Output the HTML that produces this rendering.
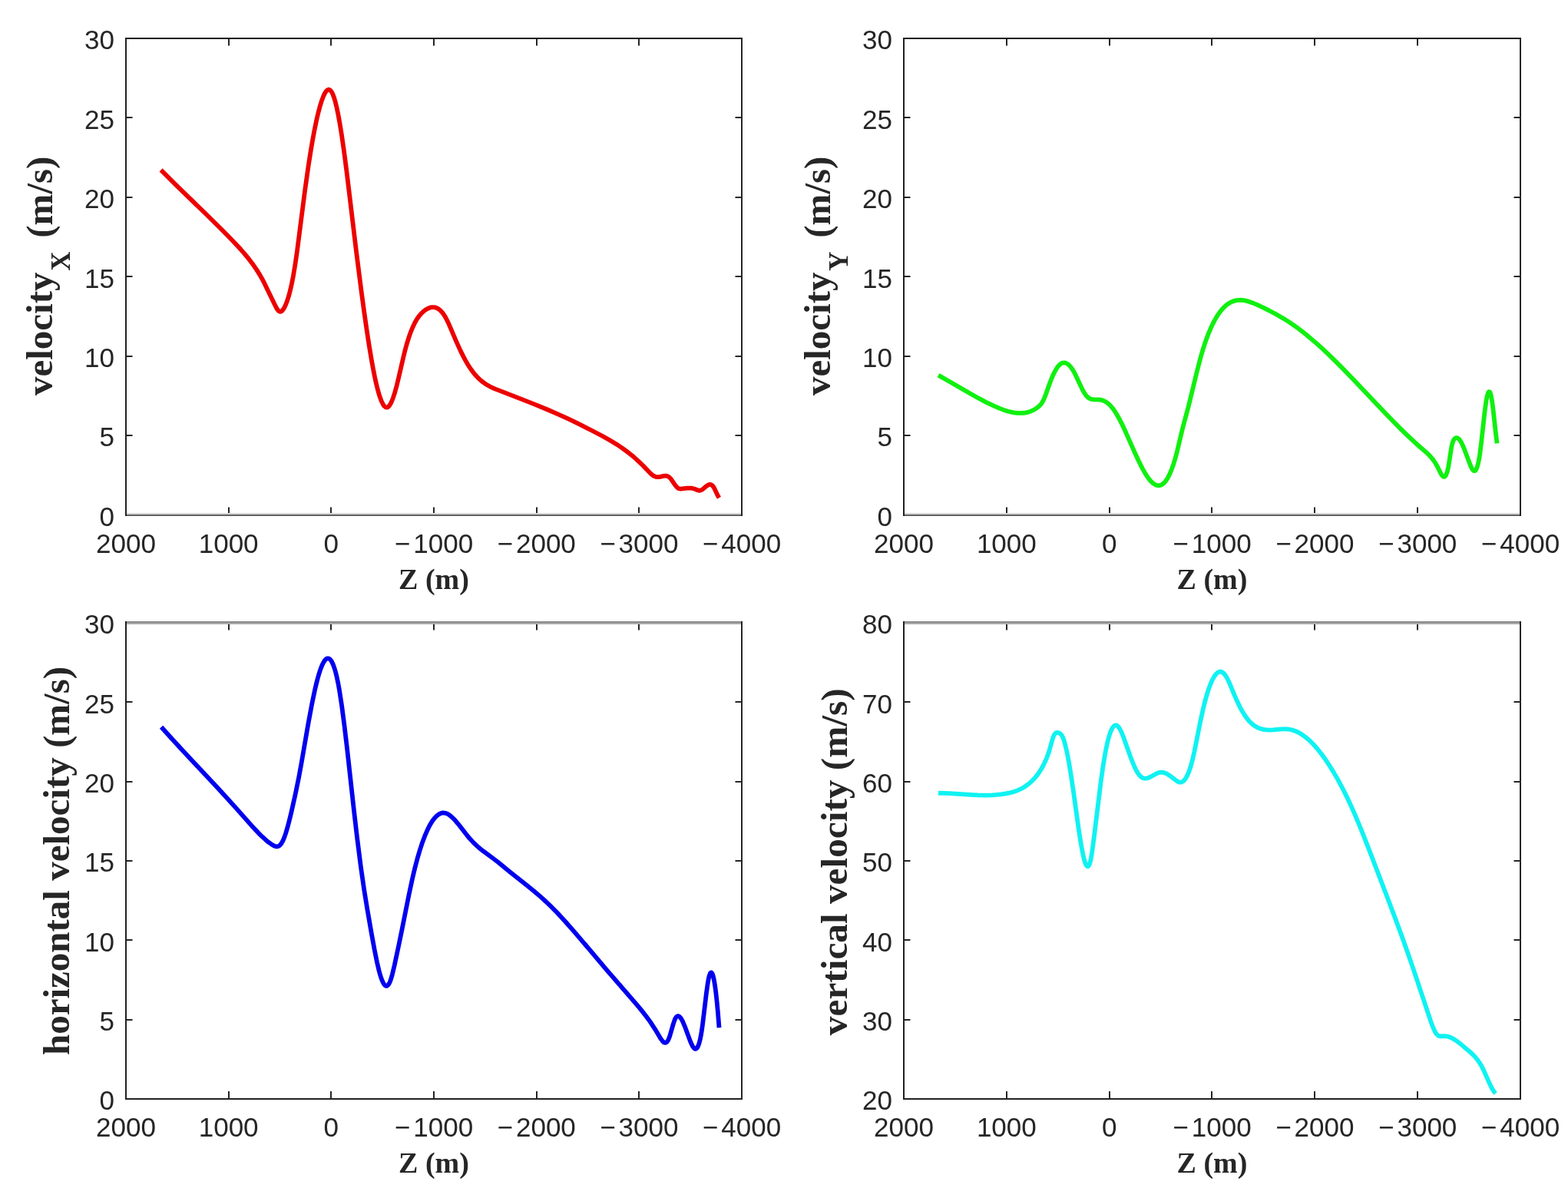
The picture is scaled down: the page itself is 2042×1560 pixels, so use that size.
<!DOCTYPE html><html><head><meta charset="utf-8"><style>html,body{margin:0;padding:0;background:#fff;}svg{display:block;}.tk{font-family:"Liberation Sans",Arial,sans-serif;font-size:35px;fill:#262626;}.lb{font-family:"Liberation Serif","Times New Roman",serif;font-weight:bold;fill:#262626;}</style></head><body>
<svg xmlns="http://www.w3.org/2000/svg" width="2042" height="1560" viewBox="0 0 2042 1560">
<rect width="2042" height="1560" fill="#fff"/>
<path d="M209.60,221.37L229.40,241.11L270.30,280.74L287.80,298.01L297.70,308.04L306.70,317.39L312.90,324.09L318.40,330.35L324.20,337.44L329.60,344.59L334.30,351.40L338.50,358.15L341.50,363.46L344.60,369.40L357.60,396.29L359.50,400.02L360.90,402.43L362.30,404.32L363.60,405.45L364.20,405.72L364.90,405.84L365.50,405.79L366.20,405.54L367.10,404.95L368.10,403.95L370.00,401.15L372.10,396.84L374.10,391.59L376.10,385.18L378.10,377.57L380.00,369.15L381.80,359.99L384.20,345.82L386.90,327.33L396.70,251.19L401.50,216.93L404.20,199.51L406.90,183.50L409.50,169.48L412.10,156.91L414.50,146.63L416.80,138.02L419.10,130.67L421.40,124.68L423.50,120.56L424.60,118.95L425.60,117.85L426.60,117.11L427.60,116.73L428.60,116.74L429.50,117.09L430.40,117.78L431.30,118.82L432.20,120.21L433.10,121.97L434.90,126.61L436.80,133.03L438.70,140.91L440.60,150.14L442.60,161.19L444.70,174.14L447.90,196.16L451.40,222.82L464.10,328.30L470.60,379.33L474.20,405.85L477.50,428.94L480.60,449.28L483.50,466.83L485.80,479.58L488.10,491.15L490.30,501.02L492.50,509.63L494.60,516.59L496.70,522.23L498.70,526.31L499.70,527.86L500.70,529.06L502.10,530.16L503.40,530.54L504.70,530.30L506.10,529.31L507.50,527.63L508.90,525.27L510.30,522.30L511.80,518.46L514.20,511.06L516.70,501.91L519.20,491.62L525.90,462.62L527.80,455.06L529.70,448.15L532.20,440.03L534.70,432.91L537.30,426.49L540.00,420.80L542.90,415.69L546.00,411.23L549.20,407.59L550.90,406.00L552.70,404.54L554.60,403.22L556.60,402.06L558.40,401.21L560.20,400.58L562.00,400.19L563.70,400.04L565.40,400.13L567.00,400.45L568.70,401.05L570.40,401.93L572.10,403.11L573.70,404.51L575.30,406.19L576.90,408.18L578.50,410.48L580.10,413.11L582.30,417.26L584.70,422.37L594.30,444.91L600.00,457.36L603.00,463.40L605.90,468.85L608.70,473.74L611.50,478.23L613.80,481.60L616.20,484.83L618.60,487.76L621.10,490.53L623.70,493.13L626.30,495.46L629.00,497.63L631.90,499.69L634.90,501.58L638.00,503.31L641.40,504.98L645.20,506.65L680.70,520.36L695.90,526.36L712.10,533.01L726.70,539.34L740.60,545.72L755.00,552.66L770.50,560.47L784.90,568.02L794.60,573.47L803.20,578.71L811.20,584.08L818.70,589.63L824.80,594.59L830.70,599.80L837.10,605.99L846.50,615.80L849.00,618.03L851.20,619.61L853.50,620.73L854.60,621.04L855.80,621.21L858.50,621.06L863.90,619.84L866.20,619.58L867.50,619.65L868.70,619.90L869.80,620.33L870.90,620.97L872.30,622.14L873.90,623.96L879.00,631.30L880.70,633.51L882.20,635.05L883.60,636.02L884.90,636.47L886.40,636.60L894.90,635.64L897.50,635.55L899.90,635.67L902.00,635.98L904.00,636.48L909.40,638.57L910.40,638.76L911.40,638.76L912.90,638.33L914.50,637.44L916.10,636.23L919.90,633.03L921.90,631.67L923.80,630.94L924.70,630.86L925.50,630.96L926.50,631.34L927.50,632.04L928.40,632.98L929.30,634.23L930.90,637.15L934.70,645.21L936.50,648.19" fill="none" stroke="#ec0000" stroke-width="5.8" stroke-linejoin="round" stroke-linecap="butt"/>
<g fill="#262626"><rect x="297" y="660.5" width="2" height="10.0"/><rect x="297" y="50.0" width="2" height="9.5"/><rect x="430" y="660.5" width="2" height="10.0"/><rect x="430" y="50.0" width="2" height="9.5"/><rect x="564" y="660.5" width="2" height="10.0"/><rect x="564" y="50.0" width="2" height="9.5"/><rect x="698" y="660.5" width="2" height="10.0"/><rect x="698" y="50.0" width="2" height="9.5"/><rect x="831" y="660.5" width="2" height="10.0"/><rect x="831" y="50.0" width="2" height="9.5"/><rect x="163.0" y="566" width="9.5" height="2"/><rect x="957.5" y="566" width="9.5" height="2"/><rect x="163.0" y="463" width="9.5" height="2"/><rect x="957.5" y="463" width="9.5" height="2"/><rect x="163.0" y="359" width="9.5" height="2"/><rect x="957.5" y="359" width="9.5" height="2"/><rect x="163.0" y="256" width="9.5" height="2"/><rect x="957.5" y="256" width="9.5" height="2"/><rect x="163.0" y="152" width="9.5" height="2"/><rect x="957.5" y="152" width="9.5" height="2"/></g>
<rect x="163" y="49" width="804" height="2" fill="#1c1c1c"/>
<rect x="163" y="668" width="804" height="2" fill="#d6d6d6"/>
<rect x="163" y="670" width="804" height="2" fill="#616161"/>
<rect x="163" y="49" width="2" height="623" fill="#202020"/>
<rect x="965" y="49" width="2" height="623" fill="#262626"/>
<text class="tk" x="164.00" y="719.50" text-anchor="middle">2000</text>
<text class="tk" x="297.67" y="719.50" text-anchor="middle">1000</text>
<text class="tk" x="431.33" y="719.50" text-anchor="middle">0</text>
<text class="tk" x="565.00" y="719.50" text-anchor="middle">−<tspan dx="4">1000</tspan></text>
<text class="tk" x="698.67" y="719.50" text-anchor="middle">−<tspan dx="4">2000</tspan></text>
<text class="tk" x="832.33" y="719.50" text-anchor="middle">−<tspan dx="4">3000</tspan></text>
<text class="tk" x="966.00" y="719.50" text-anchor="middle">−<tspan dx="4">4000</tspan></text>
<text class="tk" x="149.00" y="684.80" text-anchor="end">0</text>
<text class="tk" x="149.00" y="581.38" text-anchor="end">5</text>
<text class="tk" x="149.00" y="477.97" text-anchor="end">10</text>
<text class="tk" x="149.00" y="374.55" text-anchor="end">15</text>
<text class="tk" x="149.00" y="271.13" text-anchor="end">20</text>
<text class="tk" x="149.00" y="167.72" text-anchor="end">25</text>
<text class="tk" x="149.00" y="64.30" text-anchor="end">30</text>
<text class="lb" x="565.00" y="766.50" text-anchor="middle" font-size="38">Z (m)</text>
<text class="lb" font-size="49" transform="translate(67.50,515.00) rotate(-90)" x="0" y="0">velocity<tspan font-size="35" dx="1.8" dy="23">X</tspan><tspan dx="5.4" dy="-23">&#160;(m/s)</tspan></text>
<path d="M1222.00,488.62L1233.70,495.17L1260.10,510.56L1271.90,517.23L1284.40,523.84L1295.60,529.16L1301.50,531.66L1306.70,533.64L1311.50,535.21L1316.10,536.43L1320.50,537.29L1324.70,537.80L1328.80,537.96L1332.70,537.77L1336.00,537.33L1339.10,536.64L1342.10,535.66L1344.90,534.45L1347.70,532.92L1350.50,531.03L1353.30,528.75L1355.30,526.73L1356.40,525.34L1357.50,523.66L1359.60,519.46L1361.80,513.95L1367.10,499.01L1369.60,492.51L1372.60,485.81L1375.60,480.38L1377.30,477.90L1379.00,475.85L1380.70,474.26L1382.30,473.19L1383.90,472.53L1385.60,472.28L1387.30,472.48L1389.00,473.11L1391.00,474.39L1393.10,476.34L1395.10,478.76L1397.20,481.87L1399.00,484.99L1400.90,488.68L1407.70,503.31L1410.40,508.70L1413.20,513.37L1414.50,515.09L1415.80,516.51L1417.20,517.74L1418.60,518.68L1420.10,519.43L1421.80,519.98L1424.90,520.43L1430.60,520.46L1432.90,520.63L1435.50,521.19L1438.00,522.15L1440.90,523.80L1443.80,526.04L1446.60,528.80L1449.40,532.16L1451.90,535.68L1454.60,540.00L1457.40,544.98L1460.30,550.59L1466.20,563.07L1477.70,589.05L1482.40,599.30L1487.40,609.36L1491.80,617.14L1494.40,621.14L1496.90,624.49L1499.30,627.21L1501.70,629.39L1504.00,630.94L1506.20,631.88L1508.40,632.25L1510.60,632.03L1511.80,631.65L1513.00,631.07L1515.30,629.40L1517.60,626.95L1519.80,623.85L1522.00,619.97L1524.20,615.27L1526.30,609.99L1528.40,603.91L1530.60,596.64L1532.70,588.81L1539.90,558.52L1547.80,529.05L1558.70,484.18L1563.20,466.78L1566.50,455.38L1569.90,444.90L1573.40,435.37L1576.90,427.01L1579.20,422.12L1581.50,417.66L1583.80,413.61L1586.20,409.80L1588.60,406.40L1591.10,403.27L1593.60,400.53L1596.20,398.09L1598.80,396.04L1601.40,394.36L1604.10,392.98L1606.90,391.92L1609.70,391.21L1612.60,390.81L1615.60,390.72L1618.70,390.96L1622.40,391.60L1626.30,392.65L1630.60,394.15L1635.50,396.19L1644.20,400.22L1652.80,404.45L1660.60,408.55L1667.90,412.66L1673.60,416.08L1679.20,419.66L1684.60,423.31L1690.10,427.26L1695.80,431.57L1701.60,436.18L1713.60,446.34L1721.50,453.46L1729.70,461.14L1738.40,469.59L1747.70,478.91L1764.70,496.49L1804.30,538.32L1814.50,548.84L1823.70,558.09L1832.20,566.39L1840.20,573.93L1848.30,581.26L1858.30,589.93L1862.10,593.61L1865.50,597.54L1868.60,601.90L1871.60,607.03L1876.80,617.35L1878.30,619.54L1879.60,620.69L1880.30,620.95L1880.90,620.93L1881.50,620.67L1882.10,620.15L1883.20,618.46L1884.30,615.69L1885.40,611.72L1886.50,606.43L1889.90,584.47L1890.60,580.67L1891.30,577.67L1892.30,574.58L1893.40,572.43L1894.80,570.86L1895.50,570.39L1896.30,570.10L1897.10,570.05L1898.00,570.28L1898.80,570.72L1899.70,571.46L1901.50,573.65L1903.50,577.06L1905.30,580.85L1907.40,585.90L1914.70,605.46L1916.10,608.62L1917.30,610.81L1918.70,612.54L1919.40,613.01L1920.00,613.18L1920.70,613.07L1921.30,612.69L1921.90,612.04L1922.50,611.09L1923.70,608.23L1924.90,603.97L1926.10,598.17L1927.20,591.39L1929.10,576.42L1933.40,537.33L1935.40,522.49L1936.30,517.52L1937.20,513.77L1938.10,511.30L1938.60,510.48L1939.00,510.12L1939.50,510.05L1940.00,510.40L1940.50,511.18L1941.00,512.40L1942.00,516.16L1942.90,521.11L1944.40,532.25L1948.00,564.83L1949.60,577.26" fill="none" stroke="#10f010" stroke-width="5.8" stroke-linejoin="round" stroke-linecap="butt"/>
<g fill="#262626"><rect x="1310" y="660.5" width="2" height="10.0"/><rect x="1310" y="50.0" width="2" height="9.5"/><rect x="1444" y="660.5" width="2" height="10.0"/><rect x="1444" y="50.0" width="2" height="9.5"/><rect x="1577" y="660.5" width="2" height="10.0"/><rect x="1577" y="50.0" width="2" height="9.5"/><rect x="1711" y="660.5" width="2" height="10.0"/><rect x="1711" y="50.0" width="2" height="9.5"/><rect x="1845" y="660.5" width="2" height="10.0"/><rect x="1845" y="50.0" width="2" height="9.5"/><rect x="1176.0" y="566" width="9.5" height="2"/><rect x="1971.5" y="566" width="9.5" height="2"/><rect x="1176.0" y="463" width="9.5" height="2"/><rect x="1971.5" y="463" width="9.5" height="2"/><rect x="1176.0" y="359" width="9.5" height="2"/><rect x="1971.5" y="359" width="9.5" height="2"/><rect x="1176.0" y="256" width="9.5" height="2"/><rect x="1971.5" y="256" width="9.5" height="2"/><rect x="1176.0" y="152" width="9.5" height="2"/><rect x="1971.5" y="152" width="9.5" height="2"/></g>
<rect x="1176" y="49" width="805" height="2" fill="#1c1c1c"/>
<rect x="1176" y="668" width="805" height="2" fill="#d6d6d6"/>
<rect x="1176" y="670" width="805" height="2" fill="#616161"/>
<rect x="1176" y="49" width="2" height="623" fill="#202020"/>
<rect x="1979" y="49" width="2" height="623" fill="#262626"/>
<text class="tk" x="1177.00" y="719.50" text-anchor="middle">2000</text>
<text class="tk" x="1310.83" y="719.50" text-anchor="middle">1000</text>
<text class="tk" x="1444.67" y="719.50" text-anchor="middle">0</text>
<text class="tk" x="1578.50" y="719.50" text-anchor="middle">−<tspan dx="4">1000</tspan></text>
<text class="tk" x="1712.33" y="719.50" text-anchor="middle">−<tspan dx="4">2000</tspan></text>
<text class="tk" x="1846.17" y="719.50" text-anchor="middle">−<tspan dx="4">3000</tspan></text>
<text class="tk" x="1980.00" y="719.50" text-anchor="middle">−<tspan dx="4">4000</tspan></text>
<text class="tk" x="1162.00" y="684.80" text-anchor="end">0</text>
<text class="tk" x="1162.00" y="581.38" text-anchor="end">5</text>
<text class="tk" x="1162.00" y="477.97" text-anchor="end">10</text>
<text class="tk" x="1162.00" y="374.55" text-anchor="end">15</text>
<text class="tk" x="1162.00" y="271.13" text-anchor="end">20</text>
<text class="tk" x="1162.00" y="167.72" text-anchor="end">25</text>
<text class="tk" x="1162.00" y="64.30" text-anchor="end">30</text>
<text class="lb" x="1578.50" y="766.50" text-anchor="middle" font-size="38">Z (m)</text>
<text class="lb" font-size="49" transform="translate(1080.50,515.00) rotate(-90)" x="0" y="0">velocity<tspan font-size="35" dx="1.8" dy="23">Y</tspan><tspan dx="5.4" dy="-23">&#160;(m/s)</tspan></text>
<path d="M210.10,946.75L222.00,960.04L235.30,974.55L278.40,1020.57L293.80,1037.20L308.40,1053.33L327.90,1075.43L336.70,1084.84L341.40,1089.46L345.80,1093.45L350.00,1096.88L354.00,1099.75L356.60,1101.30L358.70,1102.12L360.60,1102.34L362.40,1101.95L363.50,1101.37L364.50,1100.60L365.50,1099.56L366.40,1098.38L368.30,1095.06L370.20,1090.61L372.20,1084.85L374.40,1077.45L376.80,1068.35L379.50,1057.20L384.90,1033.21L389.30,1011.46L392.80,992.20L401.40,942.49L406.10,917.28L410.00,898.64L411.90,890.52L413.70,883.51L415.70,876.57L417.60,870.87L419.50,866.09L421.40,862.28L423.30,859.51L424.20,858.58L425.10,857.89L426.00,857.46L426.90,857.29L427.80,857.38L428.60,857.70L429.50,858.31L430.40,859.22L432.10,861.71L433.80,865.28L435.50,869.97L437.20,875.80L438.80,882.38L440.40,890.05L442.00,898.84L445.10,918.96L448.40,944.05L452.20,976.27L460.70,1053.14L464.90,1089.39L469.70,1127.28L474.20,1158.58L478.20,1183.33L483.80,1215.52L487.70,1236.83L490.90,1252.63L493.70,1264.47L495.00,1269.16L496.30,1273.28L497.60,1276.78L498.80,1279.42L500.00,1281.49L501.20,1282.93L501.90,1283.48L502.50,1283.77L503.10,1283.89L503.70,1283.83L504.90,1283.19L506.10,1281.81L507.30,1279.67L508.40,1277.01L509.60,1273.39L510.90,1268.76L513.80,1256.56L519.10,1231.76L523.40,1210.87L532.40,1165.80L537.20,1143.40L540.20,1130.77L543.30,1118.91L546.40,1108.21L549.60,1098.36L553.20,1088.66L556.80,1080.36L558.60,1076.72L560.50,1073.24L562.40,1070.13L564.20,1067.52L566.10,1065.12L567.90,1063.18L569.70,1061.58L571.50,1060.30L573.40,1059.32L575.20,1058.72L577.00,1058.46L578.80,1058.53L580.10,1058.78L581.50,1059.24L584.30,1060.68L587.20,1062.82L590.40,1065.79L593.20,1068.81L596.40,1072.59L607.30,1086.57L611.60,1091.81L616.50,1097.11L621.80,1102.12L625.40,1105.19L629.50,1108.44L643.10,1118.49L648.40,1122.57L664.80,1135.91L686.00,1152.72L695.50,1160.46L703.60,1167.38L710.90,1173.99L718.10,1180.93L725.60,1188.58L736.40,1200.23L748.60,1214.06L791.00,1264.04L828.10,1306.95L834.60,1314.65L841.00,1322.72L846.80,1330.66L853.00,1340.05L860.70,1352.90L862.50,1355.36L864.10,1356.95L864.90,1357.46L865.60,1357.74L866.40,1357.83L867.10,1357.70L867.80,1357.36L868.50,1356.78L869.90,1354.88L871.10,1352.36L872.30,1349.02L876.80,1333.37L878.70,1327.86L879.80,1325.62L880.90,1324.11L882.10,1323.24L882.70,1323.08L883.30,1323.09L883.90,1323.26L884.60,1323.66L886.00,1325.00L887.50,1327.18L889.10,1330.21L892.10,1337.33L899.00,1355.99L900.60,1359.70L902.10,1362.57L903.00,1363.92L903.80,1364.85L904.60,1365.49L905.30,1365.79L906.00,1365.82L906.70,1365.57L907.40,1365.02L908.10,1364.15L909.40,1361.61L910.60,1358.11L911.80,1353.39L912.90,1347.92L914.00,1341.28L915.20,1332.65L919.70,1294.92L921.70,1280.41L922.80,1274.31L923.80,1270.27L924.80,1267.67L925.30,1266.90L925.90,1266.45L926.50,1266.51L927.20,1267.21L927.80,1268.35L928.50,1270.30L929.80,1275.70L931.10,1283.35L932.40,1293.23L933.80,1306.29L935.10,1320.59L936.50,1338.25" fill="none" stroke="#0000ee" stroke-width="5.8" stroke-linejoin="round" stroke-linecap="butt"/>
<g fill="#262626"><rect x="297" y="1421.0" width="2" height="10.0"/><rect x="297" y="811.0" width="2" height="9.5"/><rect x="430" y="1421.0" width="2" height="10.0"/><rect x="430" y="811.0" width="2" height="9.5"/><rect x="564" y="1421.0" width="2" height="10.0"/><rect x="564" y="811.0" width="2" height="9.5"/><rect x="698" y="1421.0" width="2" height="10.0"/><rect x="698" y="811.0" width="2" height="9.5"/><rect x="831" y="1421.0" width="2" height="10.0"/><rect x="831" y="811.0" width="2" height="9.5"/><rect x="163.0" y="1327" width="9.5" height="2"/><rect x="957.5" y="1327" width="9.5" height="2"/><rect x="163.0" y="1223" width="9.5" height="2"/><rect x="957.5" y="1223" width="9.5" height="2"/><rect x="163.0" y="1120" width="9.5" height="2"/><rect x="957.5" y="1120" width="9.5" height="2"/><rect x="163.0" y="1017" width="9.5" height="2"/><rect x="957.5" y="1017" width="9.5" height="2"/><rect x="163.0" y="913" width="9.5" height="2"/><rect x="957.5" y="913" width="9.5" height="2"/></g>
<rect x="163" y="809" width="804" height="2" fill="#8a8a8a"/>
<rect x="163" y="811" width="804" height="2" fill="#ababab"/>
<rect x="163" y="1430" width="804" height="2" fill="#222222"/>
<rect x="163" y="809" width="2" height="623" fill="#202020"/>
<rect x="965" y="809" width="2" height="623" fill="#262626"/>
<text class="tk" x="164.00" y="1480.00" text-anchor="middle">2000</text>
<text class="tk" x="297.67" y="1480.00" text-anchor="middle">1000</text>
<text class="tk" x="431.33" y="1480.00" text-anchor="middle">0</text>
<text class="tk" x="565.00" y="1480.00" text-anchor="middle">−<tspan dx="4">1000</tspan></text>
<text class="tk" x="698.67" y="1480.00" text-anchor="middle">−<tspan dx="4">2000</tspan></text>
<text class="tk" x="832.33" y="1480.00" text-anchor="middle">−<tspan dx="4">3000</tspan></text>
<text class="tk" x="966.00" y="1480.00" text-anchor="middle">−<tspan dx="4">4000</tspan></text>
<text class="tk" x="149.00" y="1445.30" text-anchor="end">0</text>
<text class="tk" x="149.00" y="1341.97" text-anchor="end">5</text>
<text class="tk" x="149.00" y="1238.63" text-anchor="end">10</text>
<text class="tk" x="149.00" y="1135.30" text-anchor="end">15</text>
<text class="tk" x="149.00" y="1031.97" text-anchor="end">20</text>
<text class="tk" x="149.00" y="928.63" text-anchor="end">25</text>
<text class="tk" x="149.00" y="825.30" text-anchor="end">30</text>
<text class="lb" x="565.00" y="1527.00" text-anchor="middle" font-size="38">Z (m)</text>
<text class="lb" font-size="49" transform="translate(90.00,1121.00) rotate(-90)" x="0" y="0" text-anchor="middle">horizontal velocity (m/s)</text>
<path d="M1222.00,1032.74L1229.10,1032.84L1236.90,1033.16L1263.30,1034.87L1273.30,1035.37L1283.30,1035.56L1292.30,1035.34L1297.90,1034.97L1303.30,1034.41L1308.60,1033.64L1313.60,1032.70L1317.90,1031.67L1321.80,1030.49L1325.50,1029.11L1329.10,1027.48L1332.40,1025.70L1335.60,1023.69L1338.70,1021.44L1341.80,1018.87L1344.80,1016.05L1347.50,1013.19L1350.10,1010.08L1352.60,1006.70L1355.50,1002.23L1358.20,997.46L1360.90,992.04L1363.30,986.56L1364.90,982.34L1366.30,978.08L1370.90,961.75L1371.80,959.18L1372.70,957.18L1373.40,956.01L1374.10,955.15L1374.80,954.56L1375.60,954.16L1376.40,953.99L1377.40,954.03L1378.60,954.29L1379.70,954.70L1381.10,955.65L1382.30,956.97L1383.40,958.72L1384.50,961.09L1385.60,964.11L1386.80,968.10L1389.20,978.06L1391.90,992.01L1394.90,1010.25L1397.80,1029.92L1404.90,1080.76L1407.00,1094.42L1408.80,1104.88L1411.00,1115.59L1412.10,1119.91L1413.10,1123.15L1414.10,1125.67L1415.10,1127.39L1416.00,1128.18L1416.50,1128.29L1416.90,1128.19L1417.60,1127.63L1418.20,1126.72L1418.90,1125.14L1419.50,1123.32L1420.80,1117.80L1422.10,1110.16L1424.60,1091.61L1433.70,1017.64L1436.30,999.05L1438.80,983.68L1441.40,970.45L1442.70,964.88L1444.00,959.99L1445.30,955.77L1446.60,952.23L1447.90,949.34L1449.20,947.12L1450.30,945.74L1451.40,944.83L1452.50,944.37L1453.70,944.38L1454.80,944.87L1456.00,945.88L1457.20,947.37L1458.40,949.27L1460.40,953.24L1462.70,958.78L1472.10,985.18L1474.60,991.71L1476.90,997.21L1479.40,1002.47L1481.70,1006.52L1483.90,1009.57L1486.00,1011.63L1487.80,1012.79L1489.60,1013.45L1491.50,1013.68L1493.60,1013.46L1495.50,1012.91L1497.60,1012.02L1505.00,1007.92L1507.90,1006.57L1509.40,1006.08L1510.90,1005.76L1512.30,1005.66L1513.80,1005.76L1515.50,1006.09L1517.30,1006.67L1519.10,1007.46L1521.10,1008.56L1525.00,1011.18L1531.90,1016.50L1534.30,1017.97L1535.80,1018.53L1537.10,1018.72L1538.40,1018.58L1539.60,1018.14L1541.10,1017.15L1542.60,1015.65L1544.10,1013.62L1545.60,1011.03L1547.10,1007.86L1548.50,1004.35L1549.90,1000.30L1551.30,995.69L1553.30,988.08L1555.40,978.82L1563.10,940.11L1566.70,923.66L1568.80,915.12L1570.90,907.37L1573.00,900.41L1575.10,894.26L1577.20,888.92L1579.30,884.40L1581.40,880.73L1583.50,877.90L1584.60,876.77L1585.60,875.95L1586.60,875.33L1587.60,874.92L1588.70,874.69L1589.70,874.71L1590.70,874.93L1591.70,875.36L1593.40,876.58L1595.10,878.42L1596.80,880.89L1598.60,884.12L1601.60,890.57L1607.70,905.29L1610.90,912.58L1614.50,920.06L1618.00,926.54L1621.10,931.56L1624.10,935.75L1627.30,939.51L1630.50,942.60L1633.90,945.21L1637.50,947.31L1641.30,948.88L1645.30,949.91L1649.20,950.42L1653.50,950.54L1657.90,950.34L1669.80,949.39L1673.40,949.32L1676.70,949.48L1680.40,950.00L1684.00,950.91L1687.60,952.22L1691.30,953.98L1696.00,956.80L1700.70,960.25L1705.50,964.40L1710.40,969.28L1715.30,974.79L1720.30,981.01L1725.40,987.98L1730.50,995.55L1736.30,1004.84L1742.00,1014.66L1747.60,1025.02L1753.20,1036.11L1758.50,1047.29L1763.90,1059.40L1769.60,1072.89L1775.90,1088.46L1785.20,1112.31L1807.90,1171.71L1817.30,1196.63L1825.20,1218.05L1832.60,1238.70L1839.60,1258.90L1863.30,1329.90L1866.10,1337.50L1868.40,1342.67L1869.70,1344.99L1871.00,1346.78L1872.30,1348.04L1873.80,1348.92L1874.80,1349.24L1876.00,1349.42L1881.50,1349.14L1883.20,1349.27L1885.00,1349.58L1887.10,1350.18L1889.30,1351.03L1891.60,1352.15L1894.00,1353.54L1898.20,1356.41L1903.20,1360.34L1914.30,1369.73L1919.00,1374.15L1921.70,1377.09L1924.20,1380.21L1926.60,1383.64L1928.80,1387.22L1930.70,1390.69L1932.60,1394.56L1939.40,1409.92L1942.20,1415.76L1943.70,1418.49L1945.10,1420.71L1946.40,1422.42L1947.70,1423.74" fill="none" stroke="#10f2f2" stroke-width="5.8" stroke-linejoin="round" stroke-linecap="butt"/>
<g fill="#262626"><rect x="1310" y="1421.0" width="2" height="10.0"/><rect x="1310" y="811.0" width="2" height="9.5"/><rect x="1444" y="1421.0" width="2" height="10.0"/><rect x="1444" y="811.0" width="2" height="9.5"/><rect x="1577" y="1421.0" width="2" height="10.0"/><rect x="1577" y="811.0" width="2" height="9.5"/><rect x="1711" y="1421.0" width="2" height="10.0"/><rect x="1711" y="811.0" width="2" height="9.5"/><rect x="1845" y="1421.0" width="2" height="10.0"/><rect x="1845" y="811.0" width="2" height="9.5"/><rect x="1176.0" y="1327" width="9.5" height="2"/><rect x="1971.5" y="1327" width="9.5" height="2"/><rect x="1176.0" y="1223" width="9.5" height="2"/><rect x="1971.5" y="1223" width="9.5" height="2"/><rect x="1176.0" y="1120" width="9.5" height="2"/><rect x="1971.5" y="1120" width="9.5" height="2"/><rect x="1176.0" y="1017" width="9.5" height="2"/><rect x="1971.5" y="1017" width="9.5" height="2"/><rect x="1176.0" y="913" width="9.5" height="2"/><rect x="1971.5" y="913" width="9.5" height="2"/></g>
<rect x="1176" y="809" width="805" height="2" fill="#8a8a8a"/>
<rect x="1176" y="811" width="805" height="2" fill="#ababab"/>
<rect x="1176" y="1430" width="805" height="2" fill="#222222"/>
<rect x="1176" y="809" width="2" height="623" fill="#202020"/>
<rect x="1979" y="809" width="2" height="623" fill="#262626"/>
<text class="tk" x="1177.00" y="1480.00" text-anchor="middle">2000</text>
<text class="tk" x="1310.83" y="1480.00" text-anchor="middle">1000</text>
<text class="tk" x="1444.67" y="1480.00" text-anchor="middle">0</text>
<text class="tk" x="1578.50" y="1480.00" text-anchor="middle">−<tspan dx="4">1000</tspan></text>
<text class="tk" x="1712.33" y="1480.00" text-anchor="middle">−<tspan dx="4">2000</tspan></text>
<text class="tk" x="1846.17" y="1480.00" text-anchor="middle">−<tspan dx="4">3000</tspan></text>
<text class="tk" x="1980.00" y="1480.00" text-anchor="middle">−<tspan dx="4">4000</tspan></text>
<text class="tk" x="1162.00" y="1445.30" text-anchor="end">20</text>
<text class="tk" x="1162.00" y="1341.97" text-anchor="end">30</text>
<text class="tk" x="1162.00" y="1238.63" text-anchor="end">40</text>
<text class="tk" x="1162.00" y="1135.30" text-anchor="end">50</text>
<text class="tk" x="1162.00" y="1031.97" text-anchor="end">60</text>
<text class="tk" x="1162.00" y="928.63" text-anchor="end">70</text>
<text class="tk" x="1162.00" y="825.30" text-anchor="end">80</text>
<text class="lb" x="1578.50" y="1527.00" text-anchor="middle" font-size="38">Z (m)</text>
<text class="lb" font-size="49.3" transform="translate(1103.00,1122.30) rotate(-90)" x="0" y="0" text-anchor="middle">vertical velocity (m/s)</text>
</svg></body></html>
